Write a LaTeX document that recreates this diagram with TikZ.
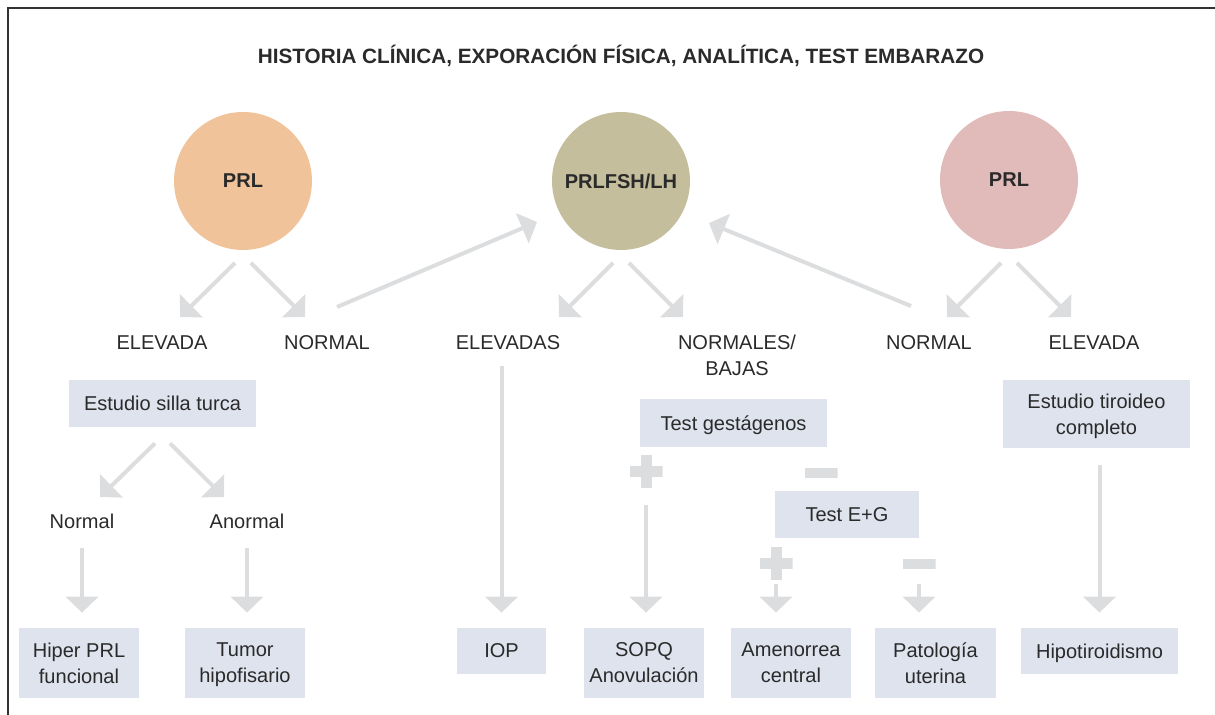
\documentclass[tikz,border=0pt]{standalone}
\usepackage{fontspec}
\setmainfont{Liberation Sans}
\usetikzlibrary{arrows.meta,calc}

\definecolor{txt}{HTML}{2A2A2A}
\definecolor{framecol}{HTML}{333333}
\definecolor{arrowgray}{HTML}{DCDDDF}
\definecolor{boxblue}{HTML}{DEE3EE}
\definecolor{prlorange}{HTML}{F1C39A}
\definecolor{khaki}{HTML}{C4BE9D}
\definecolor{rose}{HTML}{E1BBBA}

\newcommand\diagfont{\fontsize{11.4pt}{14.8pt}\selectfont}
\newcommand\headfont{\fontsize{11.8pt}{14.8pt}\selectfont\bfseries}

\begin{document}
\begin{tikzpicture}[x=0.02cm,y=-0.02cm,
  lbl/.style={font=\diagfont, text=txt, inner sep=0, align=center},
  box/.style={fill=boxblue, font=\diagfont, text=txt, align=center, inner sep=0, text depth=0pt},
  hub/.style={circle, minimum size=2.76cm, inner sep=0, font=\diagfont\bfseries, text=txt},
  arr/.style={arrowgray, line width=0.08cm, -{Triangle[length=0.32cm,width=0.64cm]}},
  plussign/.style={minimum size=0.66cm, inner sep=0, path picture={
      \fill[arrowgray] ([shift={(-0.33cm,-0.11cm)}]path picture bounding box.center) rectangle ++(0.66cm,0.22cm);
      \fill[arrowgray] ([shift={(-0.11cm,-0.33cm)}]path picture bounding box.center) rectangle ++(0.22cm,0.66cm);}},
  minussign/.style={minimum size=0.66cm, inner sep=0, path picture={
      \fill[arrowgray] ([shift={(-0.33cm,-0.1cm)}]path picture bounding box.center) rectangle ++(0.66cm,0.2cm);}}
]
\useasboundingbox (0,0) rectangle (1215,715);

% outer frame (open to the right and bottom)
\draw[framecol, line width=0.035cm] (8,715) -- (8,8) -- (1215,8);

% heading
\node[lbl, font=\headfont] (title) at (621,56)
  {HISTORIA CLÍNICA, EXPORACIÓN FÍSICA, ANALÍTICA, TEST EMBARAZO};

% hormone circles
\node[hub, fill=prlorange] (c1) at (243,181) {PRL};
\node[hub, fill=khaki]     (c2) at (621,181) {PRLFSH/LH};
\node[hub, fill=rose]      (c3) at (1009,180) {PRL};

% first level results
\node[lbl] (l1) at (162,343) {ELEVADA};
\node[lbl] (l2) at (327,343) {NORMAL};
\node[lbl] (l3) at (508,343) {ELEVADAS};
\node[lbl] (l4) at (737,355.5) {NORMALES/\\BAJAS};
\node[lbl] (l5) at (929,343) {NORMAL};
\node[lbl] (l6) at (1094,343) {ELEVADA};

% studies and tests
\node[box, minimum width=3.74cm, minimum height=0.94cm] (silla) at (162.5,403.5) {Estudio silla turca};
\node[box, minimum width=3.74cm, minimum height=1.36cm] (tiro) at (1096.5,414) {Estudio tiroideo\\completo};
\node[box, minimum width=3.74cm, minimum height=0.96cm] (gest) at (733.5,423) {Test gestágenos};
\node[box, minimum width=2.88cm, minimum height=0.94cm] (eg) at (847,514.5) {Test E+G};

% sella results
\node[lbl] (n1) at (82,521) {Normal};
\node[lbl] (n2) at (247,521) {Anormal};

% test outcome signs
\node[plussign]  (p1) at (646,472) {};
\node[minussign] (m1) at (821,473) {};
\node[plussign]  (p2) at (776,564) {};
\node[minussign] (m2) at (919,564) {};

% diagnoses
\node[box, minimum width=2.4cm, minimum height=1.4cm] (hiper) at (79,663) {Hiper PRL\\funcional};
\node[box, minimum width=2.4cm, minimum height=1.4cm] (tumor) at (245,663) {Tumor\\hipofisario};
\node[box, minimum width=1.78cm, minimum height=0.92cm] (iop) at (501.5,651) {IOP};
\node[box, minimum width=2.4cm, minimum height=1.4cm] (sopq) at (644,663) {SOPQ\\Anovulación};
\node[box, minimum width=2.4cm, minimum height=1.4cm] (amen) at (791,663) {Amenorrea\\central};
\node[box, minimum width=2.42cm, minimum height=1.4cm] (pat) at (935.5,663) {Patología\\uterina};
\node[box, minimum width=3.14cm, minimum height=0.92cm] (hipo) at (1099.5,651) {Hipotiroidismo};

% branches below the circles
\draw[arr] ($(c1)+(-8,82)$) -- ($(l1)+(18,-26)$);
\draw[arr] ($(c1)+(8,82)$)  -- ($(l2)+(-22,-26)$);
\draw[arr] ($(c2)+(-8,82)$) -- ($(l3)+(51,-26)$);
\draw[arr] ($(c2)+(8,82)$)  -- ($(l4)+(-54,-38.5)$);
\draw[arr] ($(c3)+(-8,83)$) -- ($(l5)+(18,-26)$);
\draw[arr] ($(c3)+(8,83)$)  -- ($(l6)+(-23,-26)$);

% normal prolactin leads to gonadotropins
\draw[arr] ($(l2)+(10,-36)$) -- ($(c2)+(-84,41)$);
\draw[arr] ($(l5)+(-18,-37)$) -- ($(c2)+(88,42)$);

% sella study branches
\draw[arr] ($(silla.south)+(-7.5,16)$) -- ($(n1)+(18,-24)$);
\draw[arr] ($(silla.south)+(7.5,16)$)  -- ($(n2)+(-23,-24)$);

% vertical arrows to diagnoses
\draw[arr] ($(n1)+(0,27)$) -- ($(n1 |- hiper.north)+(0,-15)$);
\draw[arr] ($(n2)+(0,27)$) -- ($(n2 |- tumor.north)+(0,-15)$);
\draw[arr] ($(l3 -| iop.north)+(0,23)$) -- ($(iop.north)+(0,-15)$);
\draw[arr] ($(p1.south)+(0,16.5)$) -- ($(p1.south |- sopq.north)+(0,-15)$);
\draw[arr] ($(p2.south)+(0,3.5)$) -- ($(p2.south |- amen.north)+(0,-15)$);
\draw[arr] ($(m2.south)+(0,3.5)$) -- ($(m2.south |- pat.north)+(0,-15)$);
\draw[arr] ($(tiro.south -| hipo.north)+(0,17)$) -- ($(hipo.north)+(0,-15)$);
\end{tikzpicture}
\end{document}
